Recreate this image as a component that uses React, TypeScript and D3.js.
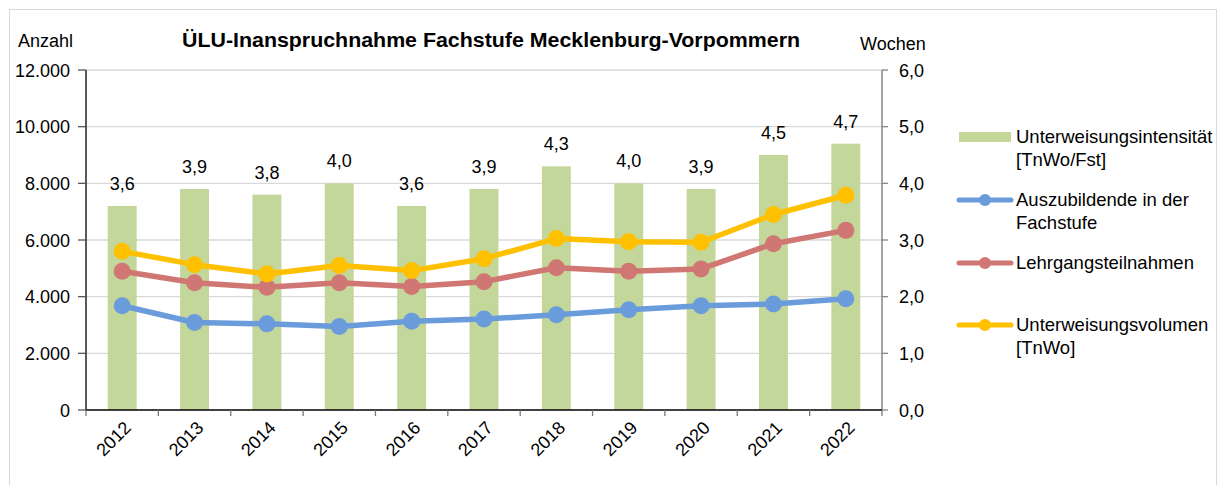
import React, { useEffect, useRef } from 'react';
import * as d3 from 'd3';

const years = ['2012', '2013', '2014', '2015', '2016', '2017', '2018', '2019', '2020', '2021', '2022'];
const intensitaet = [3.6, 3.9, 3.8, 4.0, 3.6, 3.9, 4.3, 4.0, 3.9, 4.5, 4.7];
const auszubildende = [3680, 3090, 3040, 2950, 3130, 3210, 3360, 3540, 3680, 3740, 3930];
const lehrgang = [4900, 4490, 4330, 4490, 4360, 4530, 5020, 4900, 4980, 5870, 6340];
const volumen = [5600, 5130, 4800, 5100, 4920, 5340, 6050, 5940, 5920, 6900, 7580];
const leftTicks = [0, 2000, 4000, 6000, 8000, 10000, 12000];
const rightTicks = [0, 1, 2, 3, 4, 5, 6];

const W = 1223;
const H = 485;
const FONT = '"Liberation Sans", Arial, sans-serif';

const de = d3.formatLocale({ decimal: ',', thousands: '.', grouping: [3], currency: ['', ' €'] });
const fmtLeft = de.format(',');
const fmtRight = de.format(',.1f');

const lineSeries = [
  { name: ['Auszubildende in der', 'Fachstufe'], values: auszubildende, color: '#6a9bdb' },
  { name: ['Lehrgangsteilnahmen'], values: lehrgang, color: '#d07673' },
  { name: ['Unterweisungsvolumen', '[TnWo]'], values: volumen, color: '#ffc000' },
];

const App = () => {
  const ref = useRef<SVGSVGElement | null>(null);

  useEffect(() => {
    if (!ref.current) return;
    const svg = d3.select(ref.current);
    svg.selectAll('*').remove();

    const left = 86, right = 882, top = 70, bottom = 410;

    const x = d3.scaleBand<string>().domain(years).range([left, right]).paddingInner(0.6).paddingOuter(0.3);
    const cx = (d: string) => (x(d) ?? 0) + x.bandwidth() / 2;
    const yL = d3.scaleLinear().domain([0, 12000]).range([bottom, top]);
    const yR = d3.scaleLinear().domain([0, 6]).range([bottom, top]);

    // chart frame (bottom edge is cut off in the picture)
    svg.append('rect')
      .attr('x', 9.5).attr('y', 9.5).attr('width', 1207).attr('height', 500)
      .attr('fill', '#fff').attr('stroke', '#d9d9d9');

    // gridlines
    svg.append('g').selectAll('line')
      .data(leftTicks.filter(t => t > 0))
      .enter().append('line')
      .attr('x1', left).attr('x2', right)
      .attr('y1', d => yL(d)).attr('y2', d => yL(d))
      .attr('stroke', '#d9d9d9').attr('stroke-width', 1.3);

    // bars
    svg.append('g').selectAll('rect')
      .data(intensitaet)
      .enter().append('rect')
      .attr('x', (d, i) => x(years[i]) ?? 0)
      .attr('width', x.bandwidth())
      .attr('y', d => yR(d))
      .attr('height', d => bottom - yR(d))
      .attr('fill', '#c4d79b');

    // bar labels
    svg.append('g').selectAll('text')
      .data(intensitaet)
      .enter().append('text')
      .attr('x', (d, i) => cx(years[i]))
      .attr('y', d => yR(d) - 16)
      .attr('text-anchor', 'middle')
      .attr('font-family', FONT).attr('font-size', 18).attr('fill', '#000')
      .text(d => fmtRight(d));

    // left axis
    const gl = svg.append('g');
    gl.append('line').attr('x1', left).attr('x2', left).attr('y1', top).attr('y2', bottom).attr('stroke', '#000').attr('stroke-width', 1.3);
    gl.selectAll('line.t').data(leftTicks).enter().append('line').attr('class', 't')
      .attr('x1', left - 8).attr('x2', left).attr('y1', d => yL(d)).attr('y2', d => yL(d))
      .attr('stroke', '#555').attr('stroke-width', 1.3);
    gl.selectAll('text').data(leftTicks).enter().append('text')
      .attr('x', 70).attr('y', d => yL(d) + 6.5)
      .attr('text-anchor', 'end').attr('font-family', FONT).attr('font-size', 18)
      .text(d => fmtLeft(d));

    // right axis
    const gr = svg.append('g');
    gr.append('line').attr('x1', right).attr('x2', right).attr('y1', top).attr('y2', bottom).attr('stroke', '#868686').attr('stroke-width', 1.5);
    gr.selectAll('line.t').data(rightTicks).enter().append('line').attr('class', 't')
      .attr('x1', right).attr('x2', right + 6).attr('y1', d => yR(d)).attr('y2', d => yR(d))
      .attr('stroke', '#868686').attr('stroke-width', 1.3);
    gr.selectAll('text').data(rightTicks).enter().append('text')
      .attr('x', 899).attr('y', d => yR(d) + 6.5)
      .attr('font-family', FONT).attr('font-size', 18)
      .text(d => fmtRight(d));

    // x axis
    const gx = svg.append('g');
    gx.append('line').attr('x1', left).attr('x2', right).attr('y1', bottom).attr('y2', bottom).attr('stroke', '#000').attr('stroke-width', 1.3);
    const step = x.step();
    gx.selectAll('line.t').data(d3.range(years.length + 1)).enter().append('line').attr('class', 't')
      .attr('x1', i => left + i * step).attr('x2', i => left + i * step)
      .attr('y1', bottom).attr('y2', bottom + 6)
      .attr('stroke', '#777').attr('stroke-width', 1.3);
    gx.selectAll('text').data(years).enter().append('text')
      .attr('transform', d => `translate(${cx(d) + 1},${bottom + 10}) rotate(-45)`)
      .attr('text-anchor', 'end').attr('dy', '0.7em')
      .attr('font-family', FONT).attr('font-size', 18)
      .text(d => d);

    // lines
    lineSeries.forEach(s => {
      const line = d3.line<number>().x((d, i) => cx(years[i])).y(d => yL(d));
      svg.append('path').datum(s.values)
        .attr('d', line).attr('fill', 'none')
        .attr('stroke', s.color).attr('stroke-width', 5.5).attr('stroke-linejoin', 'round');
      svg.append('g').selectAll('circle').data(s.values).enter().append('circle')
        .attr('cx', (d, i) => cx(years[i])).attr('cy', d => yL(d)).attr('r', 8.5)
        .attr('fill', s.color);
    });

    // titles
    svg.append('text').attr('x', 182).attr('y', 47)
      .attr('font-family', FONT).attr('font-size', 20).attr('font-weight', 'bold')
      .attr('textLength', 618).attr('lengthAdjust', 'spacingAndGlyphs')
      .text('ÜLU-Inanspruchnahme Fachstufe Mecklenburg-Vorpommern');
    svg.append('text').attr('x', 18).attr('y', 47).attr('font-family', FONT).attr('font-size', 18).text('Anzahl');
    svg.append('text').attr('x', 860).attr('y', 50).attr('font-family', FONT).attr('font-size', 18).text('Wochen');

    // legend
    const lg = svg.append('g').attr('font-family', FONT).attr('font-size', 18.5);
    lg.append('rect').attr('x', 959).attr('y', 132).attr('width', 52).attr('height', 10).attr('fill', '#c4d79b');
    ['Unterweisungsintensität', '[TnWo/Fst]'].forEach((t, i) => {
      lg.append('text').attr('x', 1016).attr('y', 143 + i * 23).text(t);
    });
    const ly = [200, 263, 325];
    lineSeries.forEach((s, k) => {
      lg.append('line').attr('x1', 959).attr('x2', 1011).attr('y1', ly[k]).attr('y2', ly[k])
        .attr('stroke', s.color).attr('stroke-width', 5).attr('stroke-linecap', 'round');
      lg.append('circle').attr('cx', 985).attr('cy', ly[k]).attr('r', 6).attr('fill', s.color);
      s.name.forEach((t, i) => {
        lg.append('text').attr('x', 1016).attr('y', ly[k] + 6 + i * 23).text(t);
      });
    });
  }, []);

  return (
    <svg ref={ref} width={W} height={H} style={{ position: 'absolute', left: 0, top: 0, display: 'block' }}></svg>
  );
};

export default App;
